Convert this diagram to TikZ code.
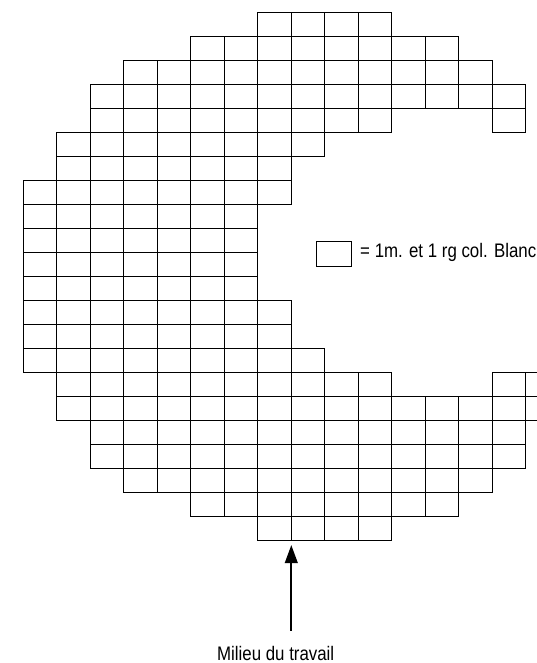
\documentclass[tikz,border=0pt]{standalone}
\usepackage{fontspec}
\setmainfont{Liberation Sans}[FakeStretch=0.86]
\usetikzlibrary{arrows.meta}

\begin{document}
\begin{tikzpicture}[x=25.125pt, y=-18pt, every node/.style={font=\fontsize{14.7}{16}\selectfont, inner sep=0pt}, >={Triangle[length=13.5pt, width=9.5pt]}, cell/.style={draw, line width=0.8pt}]
	\useasboundingbox (-0.6955,-0.5208) rectangle (15.334,27.104);
	\clip (-0.6955,-0.5208) rectangle (15.334,27.104);
	\foreach \r/\a/\b in {0/7/10, 1/5/12, 2/3/13, 3/2/14, 4/2/10, 4/14/14, 5/1/8, 6/1/7, 7/0/7, 8/0/6, 9/0/6, 10/0/6, 11/0/6, 12/0/7, 13/0/7, 14/0/8, 15/1/10, 15/14/15, 16/1/15, 17/2/14, 18/2/14, 19/3/13, 20/5/12, 21/7/10}
		\foreach \c in {\a,...,\b} \draw[cell] (\c,\r) rectangle ++(1,1);
	\node[cell, minimum width=26.25pt, minimum height=19pt] (key) at (9.28,10.06) {};
	\node[anchor=base west] (keytext) at (10.05,10.217) {= 1m. et 1 rg col. Blanc};
	\node[anchor=base] (milieu) at (7.534,26.98) {Milieu du travail};
	\coordinate (tip) at (8,22.19); \coordinate (tail) at (8,25.76);
	\draw[->, line width=1.5pt] (tail) -- (tip);
\end{tikzpicture}
\end{document}
